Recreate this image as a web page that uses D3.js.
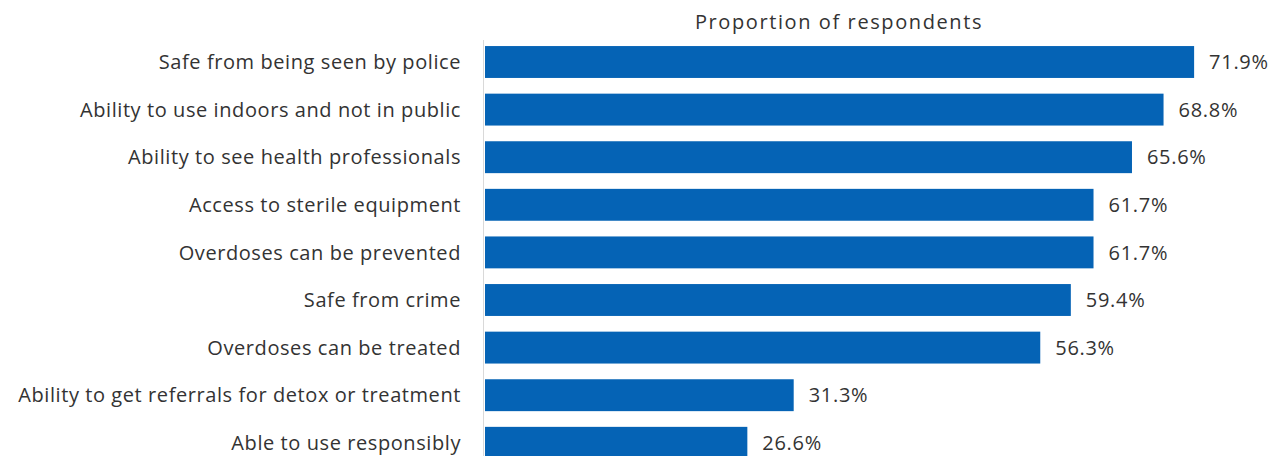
<!DOCTYPE html>
<html><head><meta charset="utf-8">
<script src="https://cdn.jsdelivr.net/npm/d3@7"></script>
<style>
html,body{margin:0;padding:0;background:#fff;}
svg text{font-family:"Open Sans",Lato,sans-serif;fill:#333;}
</style></head>
<body><svg id="chart" width="1282" height="456"></svg>
<script>
const categories = [
  "Safe from being seen by police",
  "Ability to use indoors and not in public",
  "Ability to see health professionals",
  "Access to sterile equipment",
  "Overdoses can be prevented",
  "Safe from crime",
  "Overdoses can be treated",
  "Ability to get referrals for detox or treatment",
  "Able to use responsibly"
];
const values = [71.9, 68.8, 65.6, 61.7, 61.7, 59.4, 56.3, 31.3, 26.6];
const valueLabels = ["71.9%","68.8%","65.6%","61.7%","61.7%","59.4%","56.3%","31.3%","26.6%"];
const title = "Proportion of respondents";

const svg = d3.select("#chart");
const x = d3.scaleLinear().domain([0, 80]).range([485, 1274]);
const y = d3.scaleBand().domain(categories).range([38.2, 466.6]).paddingInner(0.33).paddingOuter(0.165);

svg.append("text").attr("x", 839).attr("y", 29).attr("text-anchor", "middle")
  .style("font-size", "20px").style("letter-spacing", "1.6px").text(title);

svg.append("line").attr("x1", x(0) - 1.5).attr("x2", x(0) - 1.5)
  .attr("y1", 40).attr("y2", 456).attr("stroke", "#d9d9d9").attr("stroke-width", 1);

svg.selectAll("rect.bar").data(values).join("rect").attr("class", "bar")
  .attr("x", x(0)).attr("y", (d, i) => y(categories[i]))
  .attr("width", d => x(d) - x(0)).attr("height", y.bandwidth())
  .attr("fill", "#0563b5");

svg.selectAll("text.cat").data(categories).join("text").attr("class", "cat")
  .attr("x", 461).attr("y", d => y(d) + y.bandwidth() / 2)
  .attr("dy", "0.36em").attr("text-anchor", "end")
  .style("font-size", "20px").style("letter-spacing", "0.58px").text(d => d);

svg.selectAll("text.val").data(values).join("text").attr("class", "val")
  .attr("x", d => x(d) + 15).attr("y", (d, i) => y(categories[i]) + y.bandwidth() / 2)
  .attr("dy", "0.36em").style("font-size", "20px").style("letter-spacing", "0.7px").text((d, i) => valueLabels[i]);
</script></body></html>
